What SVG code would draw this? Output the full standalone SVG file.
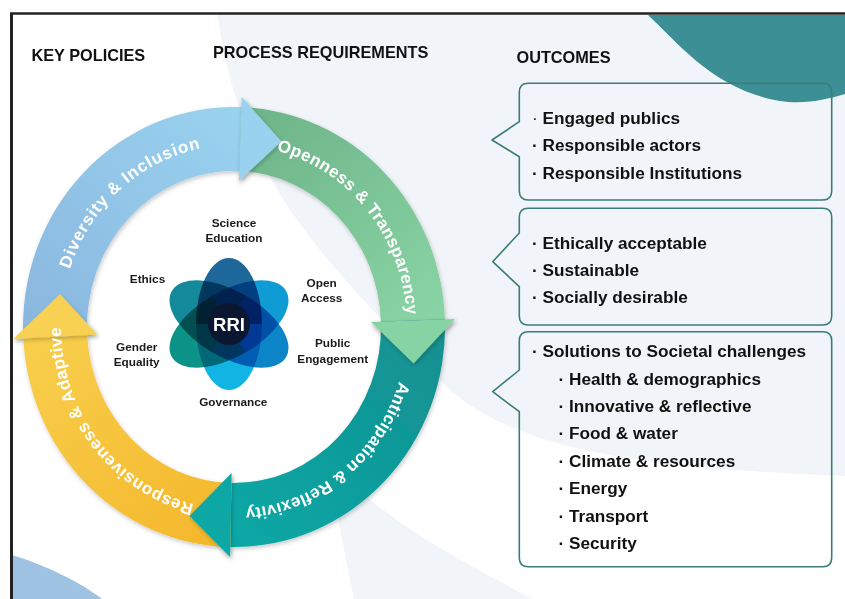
<svg xmlns="http://www.w3.org/2000/svg" width="845" height="599" viewBox="0 0 845 599">
  <style>
    .hdr { font-family: "Liberation Sans", Arial, sans-serif; font-weight: bold; font-size: 16.3px; fill: #111; }
    .out { font-family: "Liberation Sans", Arial, sans-serif; font-weight: bold; font-size: 17.2px; fill: #111; }
    .lbl { font-family: "Liberation Sans", Arial, sans-serif; font-weight: bold; font-size: 11.8px; fill: #1a1a1a; text-anchor: middle; }
    .ring { font-family: "Liberation Sans", Arial, sans-serif; font-weight: bold; font-size: 17px; fill: #ffffff; }
    .box { fill: none; stroke: #3a7d76; stroke-width: 1.6; stroke-linejoin: round; }
    .petal { mix-blend-mode: multiply; }
  </style>
  <defs>
    <linearGradient id="gBlue" gradientUnits="userSpaceOnUse" x1="30" y1="330" x2="250" y2="110">
      <stop offset="0" stop-color="#8ab7df"/>
      <stop offset="1" stop-color="#9ad3ef"/>
    </linearGradient>
    <linearGradient id="gGreen" gradientUnits="userSpaceOnUse" x1="250" y1="110" x2="440" y2="330">
      <stop offset="0" stop-color="#6db489"/>
      <stop offset="1" stop-color="#8ad5a5"/>
    </linearGradient>
    <linearGradient id="gTeal" gradientUnits="userSpaceOnUse" x1="440" y1="330" x2="230" y2="550">
      <stop offset="0" stop-color="#168f90"/>
      <stop offset="1" stop-color="#06a9a6"/>
    </linearGradient>
    <linearGradient id="gYellow" gradientUnits="userSpaceOnUse" x1="230" y1="550" x2="25" y2="335">
      <stop offset="0" stop-color="#f4b62a"/>
      <stop offset="1" stop-color="#f8cf4d"/>
    </linearGradient>
    <filter id="shadow" x="-20%" y="-20%" width="140%" height="140%">
      <feDropShadow dx="1" dy="2" stdDeviation="2" flood-color="#000" flood-opacity="0.22"/>
    </filter>
    <path id="tpDiv" d="M63.1,298.5 A173,182 0 0 1 231.0,145.0"/>
    <path id="tpOpen" d="M246.1,145.4 A173,182 0 0 1 406.0,346.0"/>
    <path id="tpAnt" d="M404.4,358.6 A173,182 0 0 1 221.9,508.6"/>
    <path id="tpResp" d="M215.9,508.0 A173,182 0 0 1 62.3,304.8"/>
  </defs>

  <!-- background -->
  <g id="background">
    <rect x="0" y="0" width="845" height="599" fill="#ffffff"/>
    <path d="M217,13 C228,90 250,150 290,210 C330,268 390,330 450,390 C520,450 640,468 845,476 L845,13 Z" fill="#f1f5f9"/>
    <path d="M328,465 C338,520 347,565 354,599 L532,599 C470,565 400,530 345,478 Z" fill="#f1f5f9"/>
    <path d="M12,555 C45,565 80,582 102,599 L12,599 Z" fill="#9dc2e2"/>
    <path d="M648,15 C680,45 715,90 780,101 C805,105 828,99 845,94 L845,15 Z" fill="#3c8f95"/>
    <path d="M10,13.5 H845" stroke="#222" stroke-width="2.6" fill="none"/>
    <path d="M11.5,13 V599" stroke="#222" stroke-width="3" fill="none"/>
  </g>

  <!-- headers -->
  <g id="headers">
    <text class="hdr" x="31.5" y="61">KEY POLICIES</text>
    <text class="hdr" x="213" y="58">PROCESS REQUIREMENTS</text>
    <text class="hdr" x="516.5" y="62.5">OUTCOMES</text>
  </g>

  <!-- process cycle -->
  <g id="cycle" filter="url(#shadow)">
    <g id="arrow-diversity">
      <path d="M23.3,338.5 A211,220 0 0 1 241.4,107.1 L239.1,171.1 A147,156 0 0 0 87.2,335.2 Z" fill="url(#gBlue)"/>
    </g>
    <g id="arrow-openness">
      <path d="M241.4,107.1 A211,220 0 0 1 444.9,319.3 L380.9,321.6 A147,156 0 0 0 239.1,171.1 Z" fill="url(#gGreen)"/>
    </g>
    <g id="arrow-anticipation">
      <path d="M444.9,319.3 A211,220 0 0 1 230.3,547.0 L231.4,483.0 A147,156 0 0 0 380.9,321.6 Z" fill="url(#gTeal)"/>
    </g>
    <g id="arrow-responsiveness">
      <path d="M230.3,547.0 A211,220 0 0 1 23.3,338.5 L87.2,335.2 A147,156 0 0 0 231.4,483.0 Z" fill="url(#gYellow)"/>
    </g>
    <g id="heads">
      <polygon points="241.7,97.1 281.4,141.5 238.8,181.1" fill="#98d2ef" filter="url(#shadow)"/>
      <polygon points="454.9,319.0 413.6,363.6 370.9,321.9" fill="#86d4a3" filter="url(#shadow)"/>
      <polygon points="230.1,557.0 189.5,516.0 231.6,473.0" fill="#08a8a5" filter="url(#shadow)"/>
      <polygon points="13.3,339.0 60,294 97.2,334.6" fill="#f8d152" filter="url(#shadow)"/>
    </g>
  </g>
  <g id="cycle-labels">
    <text class="ring" letter-spacing="0.9"><textPath href="#tpDiv" startOffset="50%" text-anchor="middle">Diversity &amp; Inclusion</textPath></text>
    <text class="ring" letter-spacing="0.4"><textPath href="#tpOpen" startOffset="50%" text-anchor="middle">Openness &amp; Transparency</textPath></text>
    <text class="ring" letter-spacing="0.3"><textPath href="#tpAnt" startOffset="50%" text-anchor="middle">Anticipation &amp; Reflexivity</textPath></text>
    <text class="ring" letter-spacing="0.45"><textPath href="#tpResp" startOffset="50%" text-anchor="middle">Responsiveness &amp; Adaptive</textPath></text>
  </g>

  <!-- RRI flower -->
  <g id="rri" style="isolation:isolate">
    <g transform="translate(229,324)">
      <path class="petal" d="M-33,0 A33,66 0 0 1 33,0 Z" fill="#1d679b"/>
      <path class="petal" d="M33,0 A33,66 0 0 1 -33,0 Z" fill="#12b4e4"/>
      <g transform="rotate(60)">
        <path class="petal" d="M-33,0 A33,66 0 0 1 33,0 Z" fill="#0f9bd4"/>
        <path class="petal" d="M33,0 A33,66 0 0 1 -33,0 Z" fill="#0a9386"/>
      </g>
      <g transform="rotate(-60)">
        <path class="petal" d="M-33,0 A33,66 0 0 1 33,0 Z" fill="#13899a"/>
        <path class="petal" d="M33,0 A33,66 0 0 1 -33,0 Z" fill="#0b84c8"/>
      </g>
      <circle cx="0" cy="0" r="21" fill="#0b1630"/>
    </g>
    <text x="229" y="330.5" text-anchor="middle" font-family="Liberation Sans, Arial, sans-serif" font-weight="bold" font-size="18.5" fill="#ffffff">RRI</text>
  </g>

  <g id="rri-labels">
    <text class="lbl" x="234" y="226.5">Science</text>
    <text class="lbl" x="234" y="241.8">Education</text>
    <text class="lbl" x="147.5" y="283.3">Ethics</text>
    <text class="lbl" x="321.7" y="286.5">Open</text>
    <text class="lbl" x="321.7" y="301.8">Access</text>
    <text class="lbl" x="332.7" y="347">Public</text>
    <text class="lbl" x="332.7" y="362.5">Engagement</text>
    <text class="lbl" x="136.7" y="350.8">Gender</text>
    <text class="lbl" x="136.7" y="366.2">Equality</text>
    <text class="lbl" x="233.3" y="406">Governance</text>
  </g>

  <!-- outcomes -->
  <g id="outcome-1">
    <path class="box" d="M528.3,83.3 H822.7 Q831.7,83.3 831.7,92.3 V191 Q831.7,200 822.7,200 H528.3 Q519.3,200 519.3,191 V156.7 L492,140 L519.3,121.7 V92.3 Q519.3,83.3 528.3,83.3 Z"/>
    <text class="out" x="532" y="124"><tspan font-weight="normal">·</tspan> Engaged publics</text>
    <text class="out" x="532" y="151.3">· Responsible actors</text>
    <text class="out" x="532" y="178.5">· Responsible Institutions</text>
  </g>
  <g id="outcome-2">
    <path class="box" d="M528.3,208.3 H822.7 Q831.7,208.3 831.7,217.3 V316 Q831.7,325 822.7,325 H528.3 Q519.3,325 519.3,316 V286.7 L492.7,261.7 L519.3,233 V217.3 Q519.3,208.3 528.3,208.3 Z"/>
    <text class="out" x="532" y="248.5">· Ethically acceptable</text>
    <text class="out" x="532" y="276">· Sustainable</text>
    <text class="out" x="532" y="303.3">· Socially desirable</text>
  </g>
  <g id="outcome-3">
    <path class="box" d="M528.3,331.7 H822.7 Q831.7,331.7 831.7,340.7 V557.7 Q831.7,566.7 822.7,566.7 H528.3 Q519.3,566.7 519.3,557.7 V411.7 L492.7,391.7 L519.3,370 V340.7 Q519.3,331.7 528.3,331.7 Z"/>
    <text class="out" x="532" y="357.3">· Solutions to Societal challenges</text>
    <text class="out" x="558.5" y="384.5">· Health &amp; demographics</text>
    <text class="out" x="558.5" y="411.8">· Innovative &amp; reflective</text>
    <text class="out" x="558.5" y="439">· Food &amp; water</text>
    <text class="out" x="558.5" y="466.7">· Climate &amp; resources</text>
    <text class="out" x="558.5" y="494">· Energy</text>
    <text class="out" x="558.5" y="521.7">· Transport</text>
    <text class="out" x="558.5" y="549.3">· Security</text>
  </g>
</svg>
